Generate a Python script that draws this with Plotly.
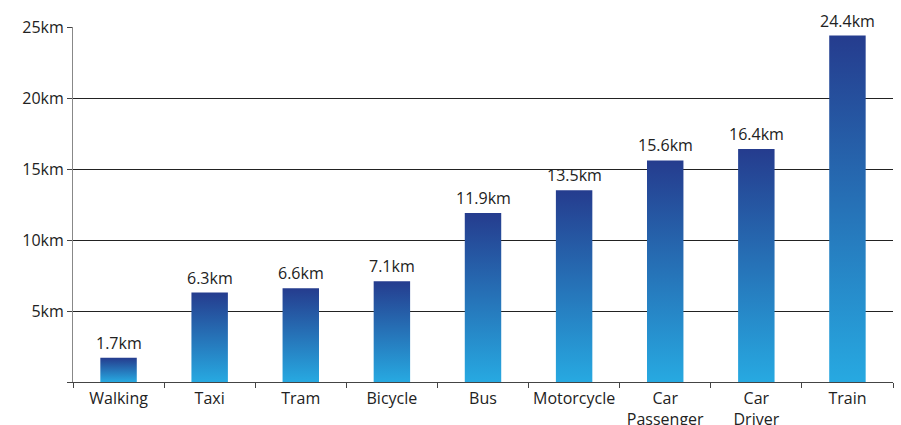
import plotly.graph_objects as go

# Average trip distance by mode of transport
modes = ["Walking", "Taxi", "Tram", "Bicycle", "Bus", "Motorcycle",
         "Car<br>Passenger", "Car<br>Driver", "Train"]
distance_km = [1.7, 6.3, 6.6, 7.1, 11.9, 13.5, 15.6, 16.4, 24.4]
y_ticks = [0, 5, 10, 15, 20, 25]
y_tick_text = ["", "5km", "10km", "15km", "20km", "25km"]

LIGHT = "#27a9e1"
DARK = "#253c8e"
TEXT = "#222222"
FONT = "Open Sans"
FONT_SIZE = 16
half_width = 0.2

fig = go.Figure()

# Each bar is a filled rectangle with a vertical gradient (light at base, dark at top)
for i, v in enumerate(distance_km):
    fig.add_trace(go.Scatter(
        x=[i - half_width, i - half_width, i + half_width, i + half_width, i - half_width],
        y=[0, v, v, 0, 0],
        mode="lines",
        line=dict(width=0),
        fill="toself",
        fillgradient=dict(type="vertical", colorscale=[[0, LIGHT], [1, DARK]]),
        hoverinfo="skip",
        showlegend=False,
    ))

# Value labels above bars
for i, v in enumerate(distance_km):
    fig.add_annotation(
        x=i, y=v, text=f"{v}km",
        showarrow=False, yanchor="bottom", yshift=2,
        font=dict(family=FONT, size=FONT_SIZE, color=TEXT),
    )

fig.update_layout(
    width=901,
    height=425,
    margin=dict(l=73, r=8, t=27, b=43),
    paper_bgcolor="white",
    plot_bgcolor="white",
    font=dict(family=FONT, size=FONT_SIZE, color=TEXT),
    xaxis=dict(
        range=[-0.5, len(modes) - 0.5],
        tickmode="array",
        tickvals=list(range(len(modes))),
        ticktext=modes,
        ticks="",
        ticklabelstandoff=2,
        automargin=False,
        showgrid=False,
        zeroline=False,
        showline=True,
        linecolor="#444444",
        linewidth=1,
        tickfont=dict(family=FONT, size=FONT_SIZE, color=TEXT),
        minor=dict(
            tickmode="array",
            tickvals=[k - 0.5 for k in range(len(modes) + 1)],
            ticks="outside",
            ticklen=5,
            tickcolor="#444444",
            showgrid=False,
        ),
        fixedrange=True,
    ),
    yaxis=dict(
        range=[0, 25],
        tickmode="array",
        tickvals=y_ticks,
        ticktext=y_tick_text,
        ticks="outside",
        ticklen=5,
        tickcolor="#444444",
        automargin=False,
        showgrid=True,
        gridcolor="#222222",
        gridwidth=1,
        zeroline=False,
        showline=True,
        linecolor="#888888",
        linewidth=1,
        tickfont=dict(family=FONT, size=FONT_SIZE, color=TEXT),
        fixedrange=True,
    ),
)

fig.write_html("out.html")
